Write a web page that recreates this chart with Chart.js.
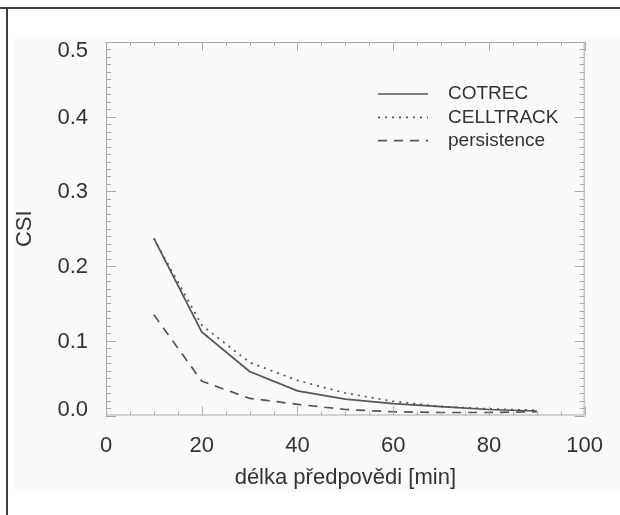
<!DOCTYPE html>
<html>
<head>
<meta charset="utf-8">
<script src="https://cdn.jsdelivr.net/npm/chart.js@4"></script>
<style>
  html, body { margin: 0; padding: 0; background: #fff; }
  canvas { display: block; }
</style>
</head>
<body>
<canvas id="csi" width="620" height="515"></canvas>
<script>
// forecast length [min]
const leadTimes = [10, 20, 30, 40, 50, 60, 70, 80, 90];
const cotrec = [0.237, 0.112, 0.059, 0.033, 0.022, 0.016, 0.012, 0.008, 0.006];
const celltrack = [0.237, 0.121, 0.071, 0.047, 0.030, 0.019, 0.012, 0.009, 0.007];
const persistence = [0.135, 0.046, 0.023, 0.015, 0.008, 0.005, 0.004, 0.004, 0.005];
const xTicks = [0, 20, 40, 60, 80, 100];
const yTicks = [0, 0.1, 0.2, 0.3, 0.4, 0.5];

const FONT = "'Liberation Sans', Arial, Helvetica, sans-serif";
const INK = "#333";
const LINE = "#555";
const pts = (ys) => leadTimes.map((x, i) => ({ x, y: ys[i] }));

// page frame + faint photo background
const backdrop = {
  id: "backdrop",
  beforeDraw(chart) {
    const c = chart.ctx;
    c.save();
    c.fillStyle = "#fafafa";
    c.fillRect(15, 37, 605, 455);
    c.fillStyle = "#3c3c3c";
    c.fillRect(0, 7, 620, 2);
    c.fillRect(6, 7, 2, 508);
    c.restore();
  },
};

// box with inward ticks on all four sides (IDL look)
const boxTicks = {
  id: "boxTicks",
  afterDatasetsDraw(chart) {
    const { ctx: c, chartArea: a, scales } = chart;
    const sx = scales.x, sy = scales.y;
    c.save();
    c.strokeStyle = "#aaa";
    c.lineWidth = 1;
    c.strokeRect(a.left + 0.5, a.top + 0.5, a.right - a.left - 1, a.bottom - a.top - 1);
    c.beginPath();
    for (let v = sx.min; v <= sx.max + 1e-9; v += 5) {
      const px = Math.round(sx.getPixelForValue(v)) + 0.5;
      const len = v % 20 === 0 ? 9 : 4;
      c.moveTo(px, a.bottom); c.lineTo(px, a.bottom - len);
      c.moveTo(px, a.top); c.lineTo(px, a.top + len);
    }
    for (let k = 0; k <= 50; k++) {
      const py = Math.round(sy.getPixelForValue(k / 100)) + 0.5;
      const len = k % 10 === 0 ? 10 : 5;
      c.moveTo(a.left, py); c.lineTo(a.left + len, py);
      c.moveTo(a.right, py); c.lineTo(a.right - len, py);
    }
    c.stroke();

    // y labels: end labels pulled inside the axis range, like IDL does
    c.font = `22px ${FONT}`;
    c.fillStyle = INK;
    c.textAlign = "right";
    c.textBaseline = "middle";
    const last = sy.ticks.length - 1;
    sy.ticks.forEach((t, i) => {
      const shift = i === 0 ? -6 : i === last ? 9 : 1;
      c.fillText(t.value.toFixed(1), a.left - 18, sy.getPixelForValue(t.value) + shift);
    });
    c.restore();
  },
};

// legend drawn inside the plot, top right
const insetLegend = {
  id: "insetLegend",
  afterDraw(chart) {
    const c = chart.ctx;
    c.save();
    c.font = `19px ${FONT}`;
    c.textBaseline = "middle";
    chart.data.datasets.forEach((ds, i) => {
      const y = 94 + i * 23.3;
      c.strokeStyle = ds.borderColor;
      c.lineWidth = ds.borderWidth;
      c.setLineDash(ds.borderDash || []);
      c.beginPath();
      c.moveTo(378, y); c.lineTo(428, y);
      c.stroke();
      c.setLineDash([]);
      c.fillStyle = INK;
      c.fillText(ds.label, 448, y);
    });
    c.restore();
  },
};

new Chart(document.getElementById("csi"), {
  type: "line",
  data: {
    datasets: [
      { label: "COTREC", data: pts(cotrec), borderColor: LINE, borderWidth: 1.7 },
      { label: "CELLTRACK", data: pts(celltrack), borderColor: LINE, borderWidth: 1.7, borderDash: [2, 5] },
      { label: "persistence", data: pts(persistence), borderColor: LINE, borderWidth: 1.7, borderDash: [9, 7] },
    ],
  },
  options: {
    responsive: false,
    animation: false,
    layout: { padding: { top: 42, right: 20, left: 0, bottom: 0 } },
    elements: { point: { radius: 0 }, line: { tension: 0, fill: false } },
    plugins: { legend: { display: false }, tooltip: { enabled: false } },
    scales: {
      x: {
        type: "linear", min: 0, max: 100,
        afterFit: (s) => { s.height = 99.5; },
        afterBuildTicks: (s) => { s.ticks = xTicks.map((value) => ({ value })); },
        grid: { display: false, drawTicks: false },
        border: { display: false },
        ticks: { padding: 17, color: INK, maxRotation: 0, font: { family: FONT, size: 22 } },
        title: {
          display: true, text: "délka předpovědi [min]", color: INK,
          font: { family: FONT, size: 22 }, padding: { bottom: 24, top: 0 },
        },
      },
      y: {
        min: 0, max: 0.5,
        afterFit: (s) => { s.width = 106; },
        afterBuildTicks: (s) => { s.ticks = yTicks.map((value) => ({ value })); },
        grid: { display: false, drawTicks: false },
        border: { display: false },
        ticks: { display: false },
        title: {
          display: true, text: "CSI", color: INK,
          font: { family: FONT, size: 22 }, padding: { top: 12, bottom: 0 },
        },
      },
    },
  },
  plugins: [backdrop, boxTicks, insetLegend],
});
</script>
</body>
</html>
